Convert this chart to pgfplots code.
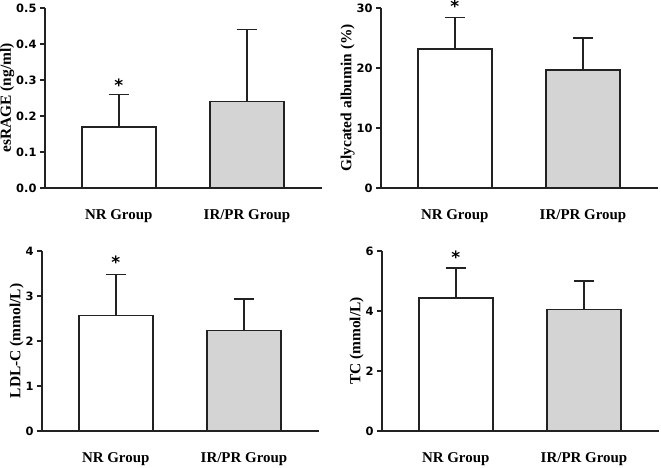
\documentclass[border=0pt]{standalone}
\usepackage{pgfplots}
\pgfplotsset{compat=1.18}
\usepackage{fontspec}
\setmainfont{Liberation Serif}
\newfontfamily\tickfont{DejaVu Sans}
\definecolor{barline}{HTML}{222222}
\definecolor{bargray}{HTML}{D4D4D4}

\tikzset{sigstar/.style={font=\tickfont\bfseries\fontsize{17}{17}\selectfont}}

\pgfplotsset{
  panel/.style={
    scale only axis, width=277bp, height=180bp,
    axis x line=bottom, axis y line=left,
    axis line style={-, line width=1.6bp, barline},
    xmin=-0.575, xmax=1.585, ymin=0,
    xtick={0,1}, xticklabels={NR Group, IR/PR Group},
    major x tick style={draw=none},
    xticklabel style={font=\bfseries\fontsize{15}{17}\selectfont, yshift=-13bp},
    yticklabel style={font=\tickfont\bfseries\fontsize{11.5}{12}\selectfont},
    /pgf/number format/assume math mode=true,
    ytick style={line width=1.6bp, barline},
    major tick length=5bp, tick align=outside,
    ylabel style={font=\bfseries\fontsize{15.5}{17}\selectfont, yshift=-5bp},
    ybar, bar width=74bp, bar shift=0pt,
    clip=false,
  },
  grpbar/.style={draw=barline, line width=1.6bp, fill=#1,
    error bars/.cd, y dir=plus, y explicit,
    error bar style={line width=1.6bp, barline},
    error mark=|,
    error mark options={line width=1.6bp, barline, mark size=10bp}},
  nrbar/.style={grpbar=white},
  irbar/.style={grpbar=bargray},
}

\begin{document}
\begin{tikzpicture}[x=1bp,y=1bp]
\path[use as bounding box] (0,0) rectangle (661,468);

% esRAGE
\begin{axis}[panel, at={(45bp,280bp)}, anchor=south west,
  ymax=0.5, ytick={0,0.1,0.2,0.3,0.4,0.5},
  yticklabel style={/pgf/number format/.cd, fixed, fixed zerofill, precision=1},
  ylabel={esRAGE (ng/ml)}]
  \addplot[nrbar] coordinates {(0,0.17) +- (0,0.09)};
  \addplot[irbar] coordinates {(1,0.24) +- (0,0.20)};
  \node[sigstar] at (axis cs:0,0.285) {*};
\end{axis}

% Glycated albumin
\begin{axis}[panel, at={(381bp,280bp)}, anchor=south west,
  ymax=30, ytick={0,10,20,30},
  ylabel={Glycated albumin (\%)}]
  \addplot[nrbar] coordinates {(0,23.2) +- (0,5.2)};
  \addplot[irbar] coordinates {(1,19.7) +- (0,5.3)};
  \node[sigstar] at (axis cs:0,30.3) {*};
\end{axis}

% LDL-C
\begin{axis}[panel, at={(42bp,37bp)}, anchor=south west,
  ymax=4, ytick={0,1,2,3,4},
  ylabel={LDL-C (mmol/L)}]
  \addplot[nrbar] coordinates {(0,2.57) +- (0,0.91)};
  \addplot[irbar] coordinates {(1,2.23) +- (0,0.70)};
  \node[sigstar] at (axis cs:0,3.75) {*};
\end{axis}

% TC
\begin{axis}[panel, at={(382bp,37bp)}, anchor=south west,
  ymax=6, ytick={0,2,4,6},
  ylabel={TC (mmol/L)}]
  \addplot[nrbar] coordinates {(0,4.43) +- (0,1.0)};
  \addplot[irbar] coordinates {(1,4.05) +- (0,0.95)};
  \node[sigstar] at (axis cs:0,5.8) {*};
\end{axis}
\end{tikzpicture}
\end{document}
